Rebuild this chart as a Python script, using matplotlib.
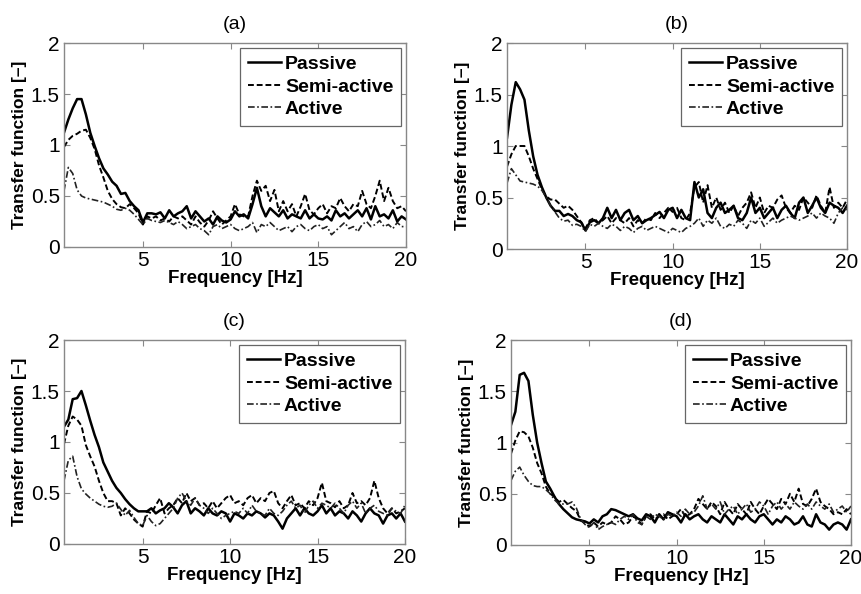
import matplotlib
matplotlib.use("Agg")
import matplotlib.pyplot as plt
import numpy as np

plt.rcParams['font.family'] = ['Liberation Sans', 'DejaVu Sans']

# frequency grid [Hz]: 0.5 .. 20 in 0.25 Hz steps
freq = np.arange(2, 81) * 0.25

panel_titles = ['(a)', '(b)', '(c)', '(d)']
series_names = ['Passive', 'Semi-active', 'Active']
x_ticks = [5, 10, 15, 20]
y_ticks = [0, 0.5, 1, 1.5, 2]
y_tick_labels = ['0', '0.5', '1', '1.5', '2']

# (a) -- values at 0.5, 0.75, 1.0, then 4 per Hz
passive_a = [1.12, 1.25, 1.36,
             1.45, 1.45, 1.30, 1.12, 0.99, 0.87, 0.77, 0.71,
             0.64, 0.60, 0.52, 0.53, 0.45, 0.40, 0.36, 0.24,
             0.33, 0.33, 0.32, 0.34, 0.28, 0.36, 0.30, 0.33,
             0.35, 0.40, 0.28, 0.35, 0.30, 0.25, 0.28, 0.22,
             0.30, 0.26, 0.24, 0.27, 0.35, 0.30, 0.32, 0.28,
             0.42, 0.58, 0.40, 0.30, 0.38, 0.34, 0.30, 0.36,
             0.28, 0.32, 0.30, 0.28, 0.36, 0.28, 0.32, 0.28,
             0.27, 0.30, 0.26, 0.36, 0.30, 0.33, 0.28, 0.32,
             0.36, 0.30, 0.38, 0.27, 0.40, 0.30, 0.32, 0.28,
             0.36, 0.25, 0.30, 0.27]
semi_a = [0.98, 1.05, 1.09,
          1.11, 1.14, 1.15, 1.07, 0.96, 0.80, 0.68, 0.55,
          0.47, 0.42, 0.39, 0.38, 0.42, 0.38, 0.33, 0.22,
          0.30, 0.28, 0.30, 0.26, 0.28, 0.25, 0.30, 0.28,
          0.30, 0.26, 0.22, 0.30, 0.24, 0.20, 0.26, 0.35,
          0.28, 0.22, 0.26, 0.30, 0.42, 0.32, 0.30, 0.30,
          0.50, 0.65, 0.55, 0.60, 0.45, 0.56, 0.35, 0.45,
          0.35, 0.42, 0.30, 0.40, 0.52, 0.36, 0.32, 0.38,
          0.42, 0.33, 0.40, 0.38, 0.48, 0.40, 0.35, 0.42,
          0.40, 0.55, 0.42, 0.38, 0.50, 0.65, 0.45, 0.58,
          0.45, 0.38, 0.40, 0.35]
active_a = [0.55, 0.78, 0.72,
            0.56, 0.50, 0.48, 0.47, 0.46, 0.45, 0.44, 0.42,
            0.40, 0.37, 0.36, 0.38, 0.36, 0.32, 0.27, 0.22,
            0.28, 0.26, 0.25, 0.24, 0.26, 0.24, 0.22, 0.25,
            0.22, 0.18, 0.20, 0.22, 0.18, 0.16, 0.12, 0.20,
            0.22, 0.18, 0.20, 0.22, 0.18, 0.16, 0.18, 0.20,
            0.24, 0.14, 0.22, 0.20, 0.24, 0.20, 0.16, 0.18,
            0.20, 0.15, 0.20, 0.22, 0.18, 0.16, 0.20, 0.22,
            0.18, 0.20, 0.12, 0.16, 0.20, 0.24, 0.18, 0.20,
            0.15, 0.22, 0.25, 0.20, 0.22, 0.26, 0.20, 0.22,
            0.18, 0.24, 0.20, 0.20]

# (b)
passive_b = [1.08, 1.40, 1.62,
             1.55, 1.45, 1.15, 0.90, 0.72, 0.60, 0.50, 0.42,
             0.37, 0.37, 0.32, 0.34, 0.32, 0.28, 0.26, 0.18,
             0.26, 0.28, 0.25, 0.30, 0.40, 0.30, 0.38, 0.28,
             0.35, 0.38, 0.28, 0.32, 0.25, 0.28, 0.30, 0.33,
             0.36, 0.30, 0.38, 0.40, 0.30, 0.38, 0.30, 0.28,
             0.65, 0.50, 0.58, 0.35, 0.30, 0.40, 0.45, 0.35,
             0.38, 0.42, 0.30, 0.28, 0.35, 0.50, 0.35, 0.40,
             0.30, 0.35, 0.40, 0.30, 0.38, 0.42, 0.35, 0.30,
             0.45, 0.50, 0.35, 0.42, 0.50, 0.40, 0.35, 0.45,
             0.42, 0.40, 0.35, 0.42]
semi_b = [0.80, 0.92, 1.00,
          1.00, 1.00, 0.90, 0.78, 0.68, 0.58, 0.51, 0.48,
          0.48, 0.44, 0.40, 0.42, 0.38, 0.32, 0.26, 0.20,
          0.28, 0.30, 0.25, 0.28, 0.32, 0.25, 0.30, 0.28,
          0.25, 0.30, 0.22, 0.28, 0.25, 0.30, 0.28, 0.35,
          0.30, 0.35, 0.40, 0.36, 0.40, 0.30, 0.28, 0.35,
          0.60, 0.65, 0.45, 0.62, 0.40, 0.50, 0.38, 0.45,
          0.35, 0.42, 0.32, 0.40, 0.45, 0.55, 0.40, 0.50,
          0.35, 0.42, 0.40, 0.48, 0.52, 0.40, 0.35, 0.42,
          0.38, 0.50, 0.45, 0.40, 0.52, 0.42, 0.35, 0.60,
          0.40, 0.45, 0.40, 0.48]
active_b = [0.64, 0.78, 0.72,
            0.66, 0.65, 0.64, 0.63, 0.61, 0.57, 0.50, 0.42,
            0.36, 0.30, 0.27, 0.28, 0.23, 0.24, 0.22, 0.17,
            0.24, 0.22, 0.25, 0.22, 0.20, 0.24, 0.22, 0.18,
            0.22, 0.20, 0.16, 0.20, 0.22, 0.18, 0.20, 0.22,
            0.20, 0.18, 0.16, 0.20, 0.18, 0.16, 0.20, 0.22,
            0.25, 0.30, 0.22, 0.28, 0.25, 0.30, 0.22, 0.20,
            0.24, 0.22, 0.28, 0.25, 0.20, 0.28, 0.25, 0.30,
            0.22, 0.26, 0.30, 0.25, 0.28, 0.30, 0.32, 0.30,
            0.28, 0.30, 0.32, 0.35, 0.30, 0.35, 0.32, 0.30,
            0.25, 0.35, 0.40, 0.38]

# (c)
passive_c = [1.15, 1.22, 1.42,
             1.43, 1.50, 1.36, 1.21, 1.07, 0.95, 0.80, 0.71,
             0.62, 0.55, 0.50, 0.44, 0.39, 0.35, 0.32, 0.32,
             0.32, 0.35, 0.30, 0.33, 0.35, 0.40, 0.36, 0.30,
             0.38, 0.42, 0.30, 0.35, 0.32, 0.28, 0.35, 0.30,
             0.28, 0.32, 0.30, 0.22, 0.30, 0.28, 0.25, 0.30,
             0.28, 0.32, 0.30, 0.26, 0.30, 0.28, 0.22, 0.15,
             0.25, 0.30, 0.35, 0.28, 0.35, 0.30, 0.28, 0.32,
             0.38, 0.30, 0.35, 0.28, 0.32, 0.30, 0.25, 0.32,
             0.28, 0.22, 0.30, 0.35, 0.30, 0.28, 0.20, 0.28,
             0.30, 0.25, 0.30, 0.22]
semi_c = [0.98, 1.16, 1.25,
          1.22, 1.16, 0.97, 0.86, 0.76, 0.62, 0.50, 0.42,
          0.42, 0.40, 0.28, 0.35, 0.30, 0.24, 0.20, 0.17,
          0.32, 0.30, 0.38, 0.45, 0.30, 0.35, 0.38, 0.45,
          0.40, 0.50, 0.42, 0.45, 0.38, 0.40, 0.35, 0.42,
          0.35, 0.40, 0.45, 0.48, 0.40, 0.42, 0.38, 0.45,
          0.48, 0.40, 0.45, 0.42, 0.50, 0.52, 0.40, 0.35,
          0.42, 0.48, 0.38, 0.40, 0.35, 0.42, 0.38, 0.45,
          0.60, 0.42, 0.40, 0.36, 0.42, 0.35, 0.38, 0.50,
          0.40, 0.42, 0.38, 0.45, 0.62, 0.45, 0.35, 0.30,
          0.35, 0.30, 0.32, 0.35]
active_c = [0.62, 0.82, 0.86,
            0.66, 0.54, 0.49, 0.45, 0.42, 0.39, 0.37, 0.36,
            0.37, 0.40, 0.34, 0.28, 0.33, 0.26, 0.20, 0.18,
            0.28, 0.22, 0.18, 0.20, 0.25, 0.30, 0.35, 0.45,
            0.50, 0.42, 0.38, 0.45, 0.38, 0.35, 0.30, 0.35,
            0.30, 0.25, 0.28, 0.30, 0.32, 0.30, 0.35, 0.30,
            0.38, 0.32, 0.30, 0.28, 0.35, 0.30, 0.28, 0.32,
            0.38, 0.42, 0.35, 0.38, 0.30, 0.38, 0.42, 0.35,
            0.40, 0.38, 0.35, 0.40, 0.35, 0.30, 0.38, 0.42,
            0.35, 0.40, 0.30, 0.35, 0.38, 0.32, 0.30, 0.28,
            0.35, 0.32, 0.30, 0.38]

# (d)
passive_d = [1.17, 1.30, 1.66,
             1.68, 1.60, 1.27, 1.00, 0.80, 0.62, 0.55, 0.47,
             0.40, 0.35, 0.31, 0.27, 0.25, 0.24, 0.23, 0.21,
             0.25, 0.22, 0.28, 0.30, 0.35, 0.34, 0.32, 0.30,
             0.28, 0.30, 0.26, 0.24, 0.30, 0.28, 0.22, 0.30,
             0.25, 0.32, 0.30, 0.28, 0.22, 0.30, 0.25, 0.28,
             0.30, 0.25, 0.22, 0.28, 0.25, 0.22, 0.30, 0.25,
             0.20, 0.28, 0.25, 0.30, 0.25, 0.22, 0.28, 0.30,
             0.25, 0.20, 0.25, 0.22, 0.28, 0.25, 0.20, 0.22,
             0.28, 0.20, 0.18, 0.30, 0.22, 0.20, 0.15, 0.20,
             0.22, 0.20, 0.15, 0.25]
semi_d = [0.89, 1.02, 1.11,
          1.10, 1.06, 0.95, 0.80, 0.70, 0.57, 0.50, 0.47,
          0.42, 0.44, 0.40, 0.36, 0.33, 0.24, 0.21, 0.18,
          0.22, 0.18, 0.22, 0.20, 0.22, 0.28, 0.25, 0.20,
          0.22, 0.28, 0.25, 0.20, 0.28, 0.30, 0.25, 0.28,
          0.30, 0.25, 0.28, 0.30, 0.35, 0.28, 0.30, 0.35,
          0.45, 0.40, 0.35, 0.42, 0.38, 0.30, 0.42, 0.35,
          0.30, 0.40, 0.35, 0.30, 0.42, 0.35, 0.30, 0.38,
          0.45, 0.40, 0.35, 0.45, 0.40, 0.50, 0.42, 0.55,
          0.40, 0.38, 0.45, 0.55, 0.42, 0.38, 0.35, 0.30,
          0.32, 0.30, 0.35, 0.30]
active_d = [0.63, 0.72, 0.76,
            0.68, 0.62, 0.58, 0.57, 0.57, 0.54, 0.50, 0.44,
            0.40, 0.40, 0.40, 0.42, 0.36, 0.25, 0.20, 0.17,
            0.22, 0.15, 0.18, 0.20, 0.22, 0.20, 0.25, 0.28,
            0.25, 0.30, 0.22, 0.20, 0.28, 0.25, 0.30, 0.28,
            0.25, 0.30, 0.28, 0.32, 0.28, 0.35, 0.30, 0.32,
            0.38, 0.48, 0.35, 0.40, 0.35, 0.42, 0.30, 0.35,
            0.38, 0.30, 0.35, 0.40, 0.32, 0.35, 0.42, 0.38,
            0.30, 0.38, 0.42, 0.35, 0.40, 0.35, 0.42, 0.38,
            0.35, 0.40, 0.35, 0.42, 0.38, 0.35, 0.40, 0.32,
            0.35, 0.38, 0.32, 0.38]

panels = [
    (passive_a, semi_a, active_a),
    (passive_b, semi_b, active_b),
    (passive_c, semi_c, active_c),
    (passive_d, semi_d, active_d),
]

rects = [
    [0.0742, 0.5842, 0.3968, 0.3434],
    [0.5882, 0.5808, 0.3944, 0.3468],
    [0.0742, 0.0842, 0.3956, 0.3434],
    [0.5928, 0.0825, 0.3944, 0.3451],
]
styles = [
    dict(color='black', linestyle='-', linewidth=1.8),
    dict(color='black', linestyle=(0, (3, 1.5)), linewidth=1.4),
    dict(color='#222222', linestyle=(0, (4, 1.5, 1, 1.5)), linewidth=1.2),
]

fig = plt.figure(figsize=(8.62, 5.94), dpi=100)
fig.patch.set_facecolor('white')

for title, series, rect in zip(panel_titles, panels, rects):
    ax = fig.add_axes(rect)
    for name, vals, st in zip(series_names, series, styles):
        ax.plot(freq, vals, label=name, **st)
    ax.set_xlim(0.5, 20)
    ax.set_ylim(0, 2)
    ax.set_xticks(x_ticks)
    ax.set_yticks(y_ticks)
    ax.set_yticklabels(y_tick_labels)
    ax.tick_params(direction='in', top=True, right=True, length=4,
                   color='#888888', labelsize=15, pad=3)
    for sp in ax.spines.values():
        sp.set_color('#888888')
        sp.set_linewidth(1.0)
    ax.set_xlabel('Frequency [Hz]', fontsize=13.5, fontweight='bold', labelpad=0)
    ax.set_ylabel('Transfer function [–]', fontsize=12.5, fontweight='bold', labelpad=3)
    ax.set_title(title, fontsize=14, pad=10)
    leg = ax.legend(loc='upper right', fancybox=False, framealpha=1,
                    edgecolor='#666666', prop={'weight': 'bold', 'size': 14},
                    handlelength=1.7, handletextpad=0.2, labelspacing=0.25,
                    borderaxespad=0.25, borderpad=0.4)
    leg.get_frame().set_linewidth(0.9)

fig.savefig('out.png', dpi=100, facecolor='white')
